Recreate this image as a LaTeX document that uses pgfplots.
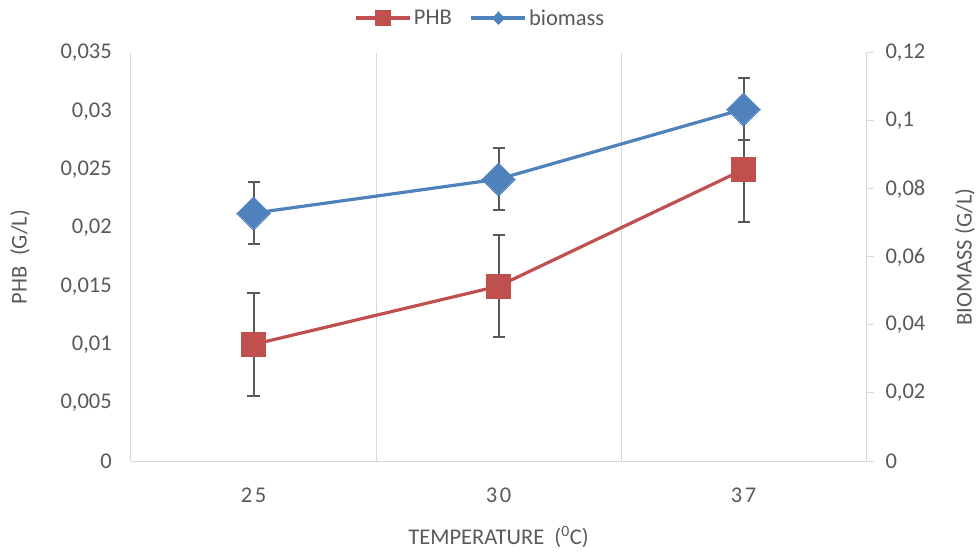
\documentclass[border=0pt]{standalone}
\usepackage{pgfplots}
\usepackage{pgfplotstable}
\pgfplotsset{compat=1.18}
\usepackage{fontspec}
\setmainfont{Carlito}
\definecolor{txt}{HTML}{595959}
\definecolor{gridc}{HTML}{D9D9D9}
\definecolor{phb}{HTML}{C0504D}
\definecolor{bio}{HTML}{4F81BD}
\definecolor{errc}{HTML}{595959}

\pgfplotstableread{
x y e
0 0.0100 0.0044
1 0.0150 0.0044
2 0.0250 0.0045
}\phbtable
\pgfplotstableread{
x y e
0 0.0729 0.0091
1 0.0829 0.0092
2 0.1035 0.0091
}\biotable

\begin{document}
\begin{tikzpicture}
\pgfplotsset{
  common/.style={
    scale only axis, width=735bp, height=408bp,
    xmin=-0.5, xmax=2.5,
    scaled y ticks=false, scaled x ticks=false,
    font=\fontsize{22.5bp}{26bp}\selectfont,
    every tick label/.append style={text=txt},
    label style={text=txt},
  },
  errs/.style={
    error bars/.cd, y dir=both, y explicit,
    error bar style={line width=2bp, color=errc},
    error mark options={rotate=90, mark size=6bp, line width=2bp, color=errc},
    /pgfplots/.cd,
  },
}
\begin{axis}[common,
  ymin=0, ymax=0.035,
  ytick={0,0.005,0.01,0.015,0.02,0.025,0.03,0.035},
  yticklabels={0,{0,005},{0,01},{0,015},{0,02},{0,025},{0,03},{0,035}},
  xtick={0,1,2}, xticklabels={2\hspace{2.5bp}5,3\hspace{2.5bp}0,3\hspace{2.5bp}7},
  minor xtick={-0.5,0.5,1.5,2.5},
  xminorgrids=true, minor x grid style={gridc, line width=1bp},
  axis x line*=bottom, axis y line*=left,
  x axis line style={gridc, line width=1bp, -},
  y axis line style={draw=none},
  major tick length=0pt, minor tick length=0pt,
  xticklabel style={yshift=-23bp},
  yticklabel style={xshift=-15.7bp},
  xlabel={TEMPERATURE\ \ (\textsuperscript{0}C)},
  ylabel={PHB\ \ (G/L)},
  every axis x label/.style={at={(axis description cs:0.5,-0.186)}, anchor=center, text=txt},
  every axis y label/.style={at={(axis description cs:-0.151,0.5)}, anchor=center, rotate=90, text=txt},
]
\addplot[phb, line width=3.2bp, mark=square*, mark size=12bp, mark options={solid, fill=phb, draw=phb, line width=0bp}, errs]
  table[x=x, y=y, y error=e] {\phbtable};
\end{axis}
\begin{axis}[common,
  ymin=0, ymax=0.12,
  ytick={0,0.02,0.04,0.06,0.08,0.1,0.12},
  yticklabels={0,{0,02},{0,04},{0,06},{0,08},{0,1},{0,12}},
  axis x line=none, axis y line*=right,
  y axis line style={gridc, line width=1bp, -},
  ytick style={gridc, line width=1bp},
  major tick length=8bp, tick align=outside,
  yticklabel style={xshift=8bp},
  ylabel={BIOMASS (G/L)},
  every axis y label/.style={at={(axis description cs:1.1347,0.5)}, anchor=center, rotate=90, text=txt},
  legend style={at={(axis description cs:0.5,1)}, anchor=center, yshift=35bp, xshift=-18bp,
    draw=none, fill=none, text=txt, legend columns=-1,
    /tikz/every even column/.append style={column sep=16bp}},
  legend image code/.code={\draw[mark repeat=2, mark phase=2, #1] plot coordinates {(0bp,0bp)(27bp,0bp)(54bp,0bp)};},
]
\addlegendimage{phb, line width=3.2bp, mark=square*, mark size=7.5bp, mark options={solid, fill=phb, draw=phb, line width=0bp}}
\addlegendentry{PHB}
\addlegendimage{bio, line width=3.2bp, mark=square*, mark size=4.5bp, mark options={solid, rotate=45, fill=bio, draw=bio, line width=0bp}}
\addlegendentry{biomass}
\addplot[forget plot, bio, line width=3.2bp, mark=square*, mark size=11.7bp, mark options={solid, rotate=45, fill=bio, draw=bio, line width=0bp}, errs]
  table[x=x, y=y, y error=e] {\biotable};
\end{axis}
\path (current axis.south west) ++(-131bp,-93bp) rectangle ++(979bp,554bp);
\end{tikzpicture}
\end{document}
